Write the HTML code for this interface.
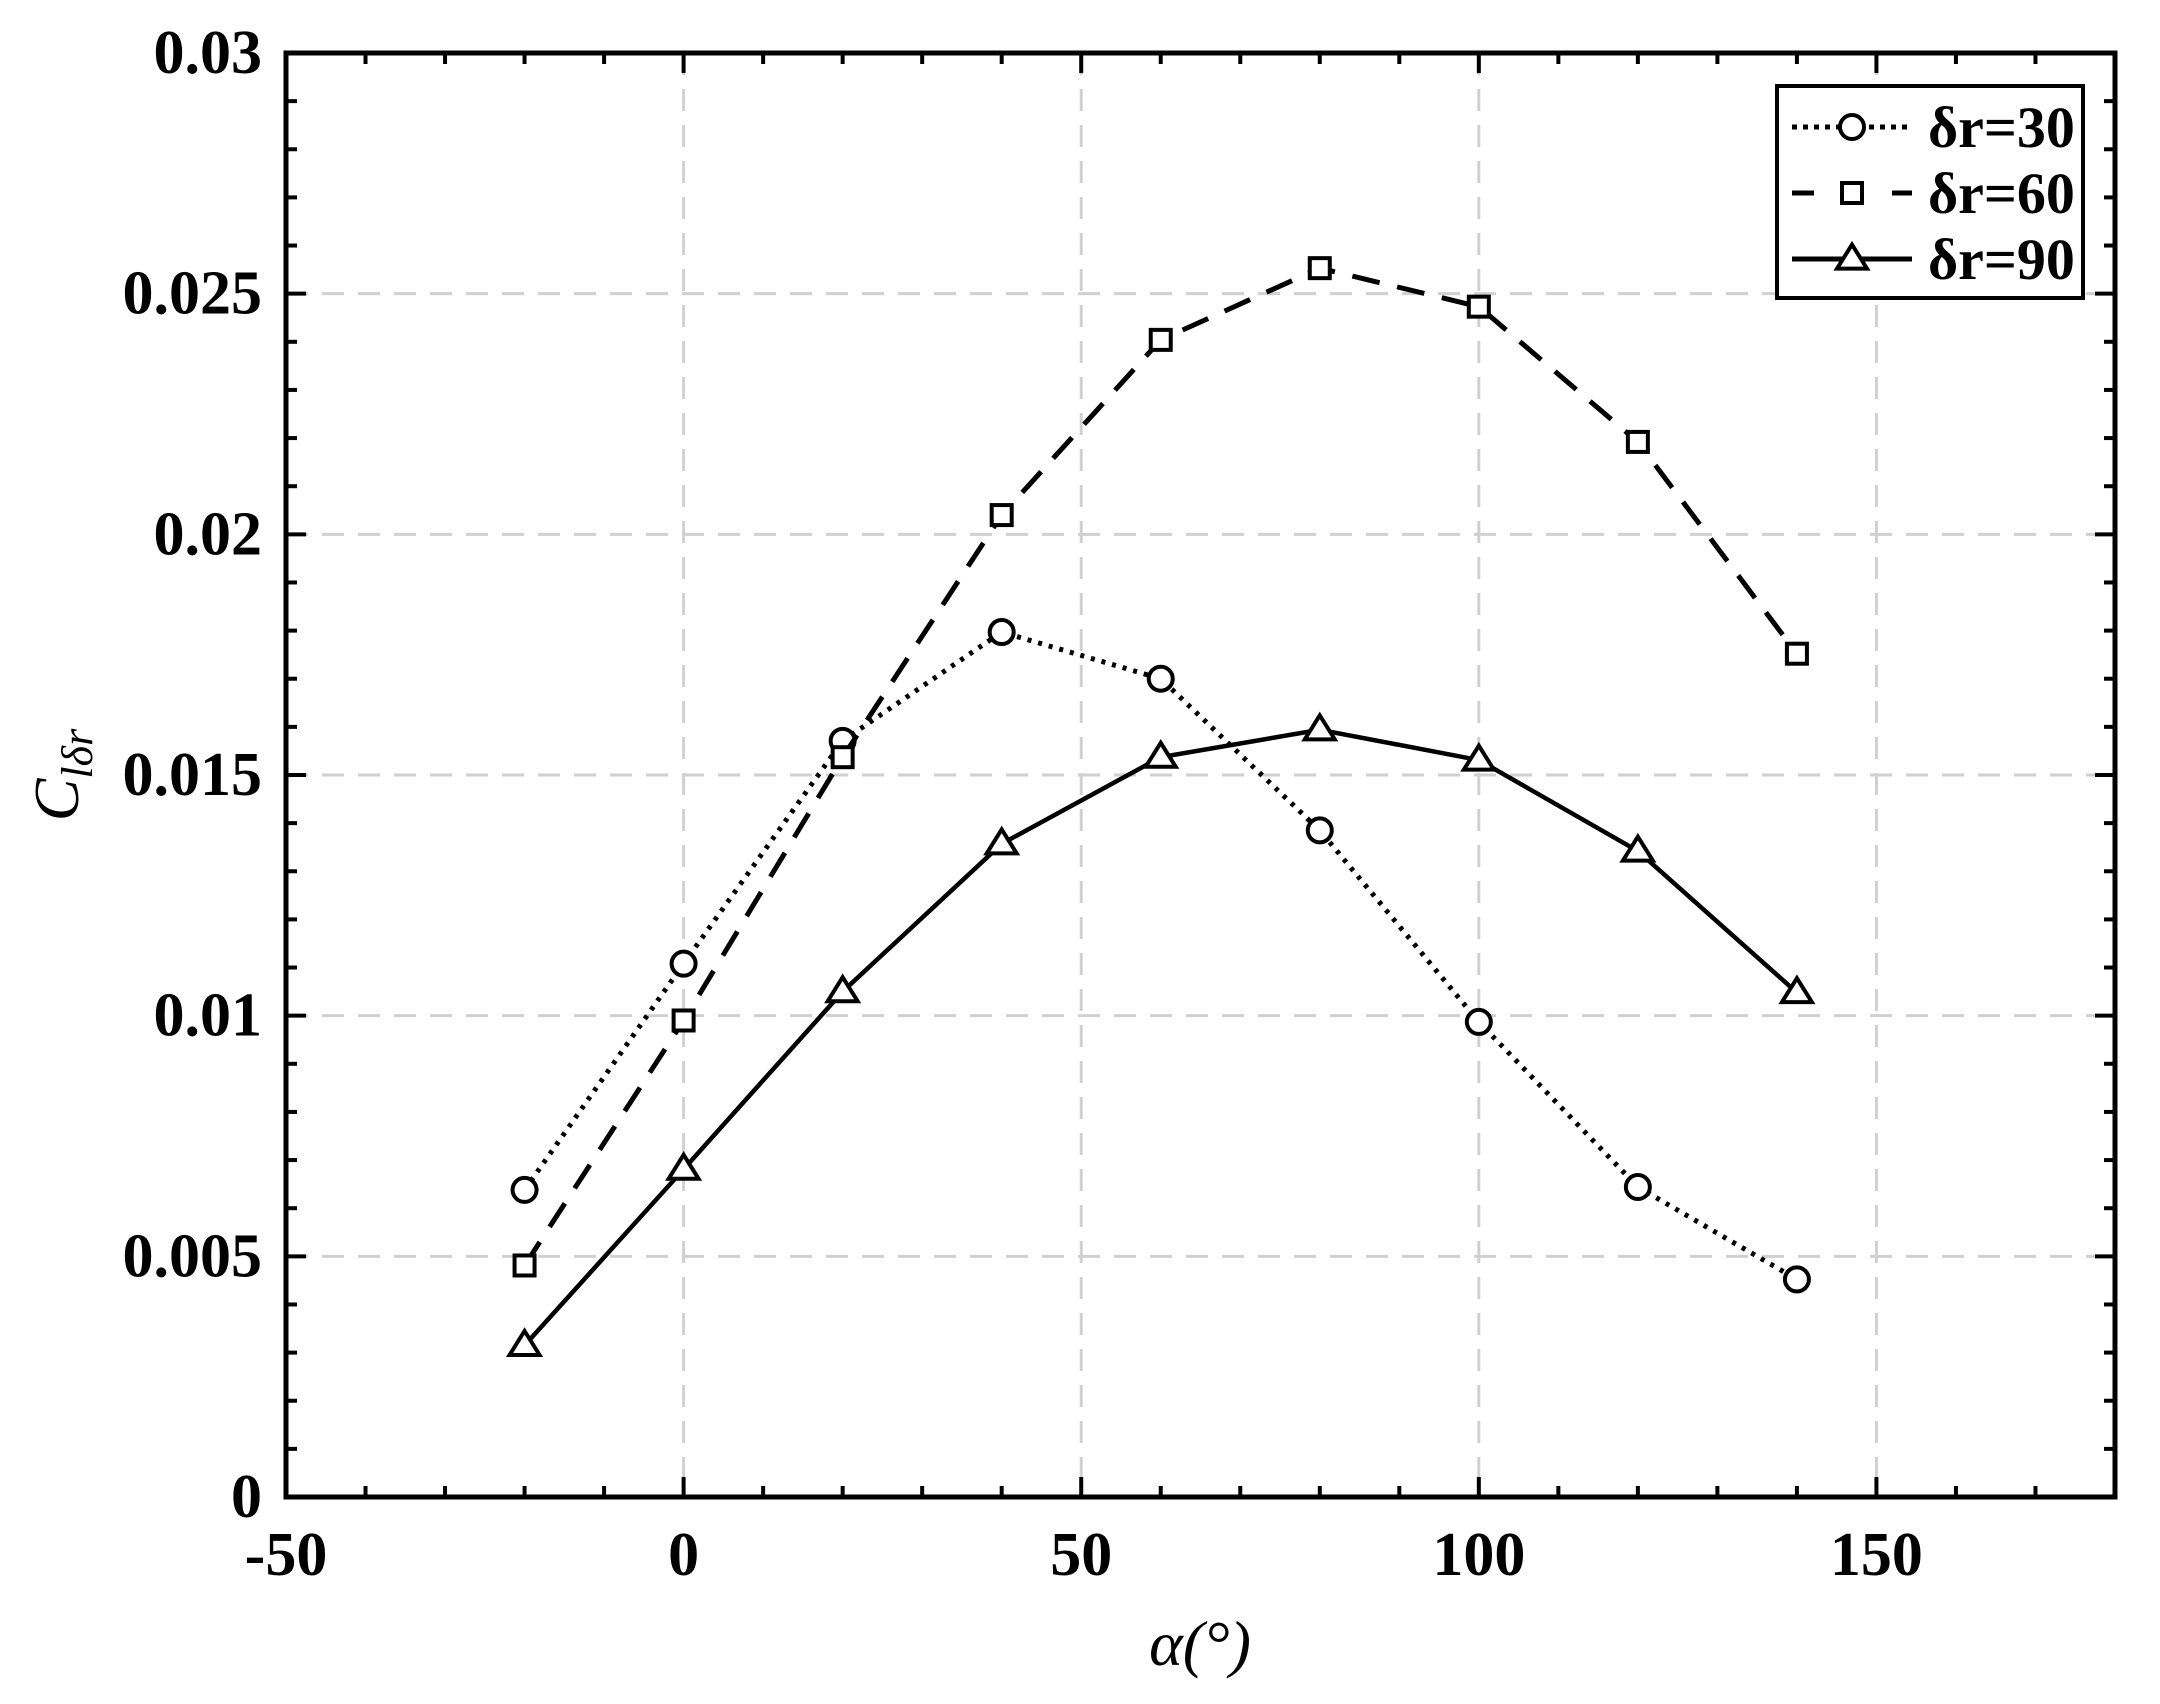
<!DOCTYPE html>
<html><head><meta charset="utf-8"><style>
html,body{margin:0;padding:0;background:#fff;}
svg text{font-family:"Liberation Serif",serif;}
</style></head><body>
<svg id="chart" width="2160" height="1699" xmlns="http://www.w3.org/2000/svg">
<g id="grid"></g>
<g id="ticks"></g>
<g id="series"></g>
<rect x="286" y="53" width="1829" height="1444" fill="none" stroke="#000" stroke-width="5"/>
<text x="1200" y="1665" font-size="64" font-style="italic" text-anchor="middle">α(°)</text>
<text transform="translate(78,775) rotate(-90)" font-size="64" font-style="italic" text-anchor="middle">C<tspan font-size="44" dy="14">lδr</tspan></text>
<g id="legend">
<rect x="1777" y="86" width="306" height="212" fill="#fff" stroke="#000" stroke-width="4"/>
</g>
</svg>
<script>
const xCats=[-20,0,20,40,60,80,100,120,140];
const s30=[0.00638,0.01108,0.01571,0.01797,0.0170,0.01385,0.00987,0.00644,0.00452];
const s60=[0.00481,0.0099,0.01537,0.0204,0.02404,0.02553,0.02473,0.02192,0.01752];
const s90=[0.00315,0.00681,0.0105,0.01357,0.01537,0.01594,0.01531,0.01342,0.01048];
const xTicks=[-50,0,50,100,150];
const yTicks=[0,0.005,0.01,0.015,0.02,0.025,0.03];
const yTickLabels=["0","0.005","0.01","0.015","0.02","0.025","0.03"];
const legendLabels=["δr=30","δr=60","δr=90"];

const L=286,R=2115,T=53,B=1497,X0=-50,X1=180,Y0=0,Y1=0.03;
const sx=v=>L+(v-X0)/(X1-X0)*(R-L);
const sy=v=>B-(v-Y0)/(Y1-Y0)*(B-T);
const NS="http://www.w3.org/2000/svg";
function mk(tag,attrs,parent){const e=document.createElementNS(NS,tag);for(const k in attrs)e.setAttribute(k,attrs[k]);parent.appendChild(e);return e;}
const grid=document.getElementById('grid'),ticks=document.getElementById('ticks'),series=document.getElementById('series'),legend=document.getElementById('legend');

xTicks.forEach(v=>{const x=sx(v);
 if(v>X0){const g=mk('line',{x1:x,x2:x,y1:T,y2:B,stroke:'#d0d0d0','stroke-width':3,'stroke-dasharray':'22 14'},grid);
 }
 const t=mk('text',{x:x,y:1575,'font-size':62,'font-weight':'bold','text-anchor':'middle'},ticks);t.textContent=v;
 
});
for(let v=X0;v<=X1;v+=10){const x=sx(v);const major=v%50===0;const len=major?20:11;
 mk('line',{x1:x,x2:x,y1:B,y2:B-len,stroke:'#000','stroke-width':4},ticks);
 mk('line',{x1:x,x2:x,y1:T,y2:T+len,stroke:'#000','stroke-width':4},ticks);}
yTicks.forEach((v,i)=>{const y=sy(v);
 if(v>Y0&&v<Y1){const g=mk('line',{x1:L,x2:R,y1:y,y2:y,stroke:'#d0d0d0','stroke-width':3,'stroke-dasharray':'22 14'},grid);
 }
 const t=mk('text',{x:262,y:y+20,'font-size':62,'font-weight':'bold','text-anchor':'end'},ticks);t.textContent=yTickLabels[i];
 
});
for(let k=0;k<=30;k++){const y=sy(k*0.001);const len=k%5===0?20:11;
 mk('line',{x1:L,x2:L+len,y1:y,y2:y,stroke:'#000','stroke-width':4},ticks);
 mk('line',{x1:R,x2:R-len,y1:y,y2:y,stroke:'#000','stroke-width':4},ticks);}

function marker(type,x,y,parent,r){
 let e;
 if(type==='circle')e=mk('circle',{cx:x,cy:y,r:r,fill:'#fff',stroke:'#000','stroke-width':4},parent);
 else if(type==='square')e=mk('rect',{x:x-r,y:y-r,width:2*r,height:2*r,fill:'#fff',stroke:'#000','stroke-width':4},parent);
 else e=mk('polygon',{points:`${x},${y-r*1.2} ${x-r*1.25},${y+r*0.8} ${x+r*1.25},${y+r*0.8}`,fill:'#fff',stroke:'#000','stroke-width':4},parent);
 return e;}
const defs=[[s30,'4 7','circle','series-dr30'],[s60,'28 18','square','series-dr60'],[s90,'none','triangle','series-dr90']];
defs.forEach(([d,dash,mt,name])=>{
 const g=mk('g',{},series);
 const p=mk('polyline',{points:d.map((v,i)=>sx(xCats[i])+','+sy(v)).join(' '),fill:'none',stroke:'#000','stroke-width':dash==='none'?4.5:5,'stroke-dasharray':dash},g);
 
 d.forEach((v,i)=>{const m=marker(mt,sx(xCats[i]),sy(v),g,mt==='square'?10:12);
  });
});
defs.forEach(([d,dash,mt,name],i)=>{const y=127+i*66;
 const g=mk('g',{},legend);
 mk('line',{x1:1792,x2:1912,y1:y,y2:y,stroke:'#000','stroke-width':5,'stroke-dasharray':dash==='4 7'?'5 6':dash==='28 18'?'22 28':'none'},g);
 marker(mt,1852,y,g,mt==='square'?10:12);
 const t=mk('text',{x:1928,y:y+20,'font-size':58,'font-weight':'bold'},g);t.textContent=legendLabels[i];
});
</script>
</body></html>
